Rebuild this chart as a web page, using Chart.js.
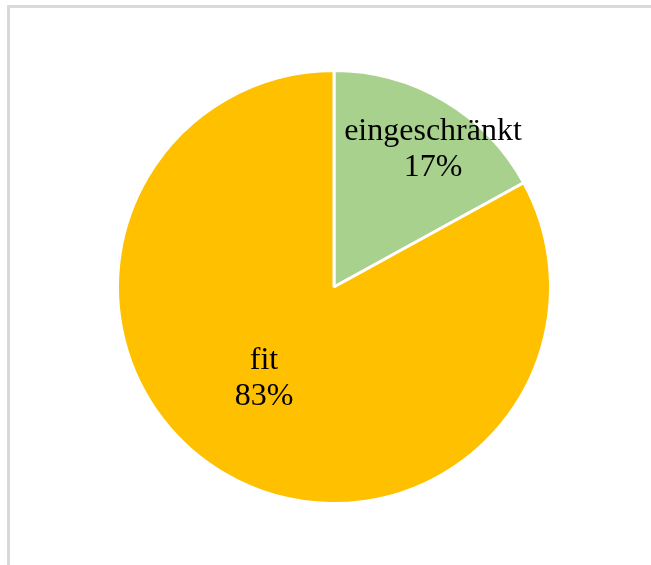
<!DOCTYPE html>
<html>
<head>
<meta charset="utf-8">
<script src="https://cdn.jsdelivr.net/npm/chart.js@4"></script>
<style>
  html, body { margin: 0; padding: 0; background: #fff; overflow: hidden; }
  #frame {
    position: absolute; left: 7px; top: 5px; width: 700px; height: 620px;
    border-left: 3px solid #d9d9d9; border-top: 3px solid #d9d9d9;
  }
  #wrap { position: absolute; left: 0; top: 0; width: 651px; height: 565px; }
</style>
</head>
<body>
<div id="frame"></div>
<div id="wrap"><canvas id="chartContainer" width="651" height="565"></canvas></div>
<script>
// categories and shares (percent)
const categories = ['eingeschränkt', 'fit'];
const shares = [17, 83];
const colors = ['#a9d18e', '#ffc000'];
// how far out (fraction of radius) each label sits, plus small nudges
const labelRadius = [0.753, 0.563];
const labelNudge = [[16, 11], [-8, -5]];

// draws "name\npercent" inside each slice
const sliceLabels = {
  id: 'sliceLabels',
  afterDatasetsDraw(chart) {
    const ctx = chart.ctx;
    const meta = chart.getDatasetMeta(0);
    ctx.save();
    ctx.font = '32px "Liberation Serif", "Times New Roman", serif';
    ctx.fillStyle = '#000';
    ctx.textAlign = 'center';
    ctx.textBaseline = 'alphabetic';
    meta.data.forEach((arc, i) => {
      const p = arc.getProps(['x', 'y', 'startAngle', 'endAngle', 'outerRadius'], true);
      const mid = (p.startAngle + p.endAngle) / 2;
      const r = p.outerRadius * labelRadius[i];
      const x = p.x + Math.cos(mid) * r + labelNudge[i][0];
      const y = p.y + Math.sin(mid) * r + labelNudge[i][1];
      ctx.fillText(categories[i], x, y - 18);
      ctx.fillText(shares[i] + '%', x, y + 18);
    });
    ctx.restore();
  }
};

let chartContainer = document.getElementById('chartContainer').getContext('2d');
let chart = new Chart(chartContainer, {
  type: 'pie',
  data: {
    labels: categories,
    datasets: [{
      data: shares,
      backgroundColor: colors,
      borderColor: '#ffffff',
      borderWidth: 3
    }]
  },
  options: {
    responsive: false,
    animation: false,
    layout: { padding: { left: 116, right: 99, top: 69, bottom: 60 } },
    plugins: {
      legend: { display: false },
      tooltip: { enabled: false }
    }
  },
  plugins: [sliceLabels]
});
</script>
</body>
</html>
